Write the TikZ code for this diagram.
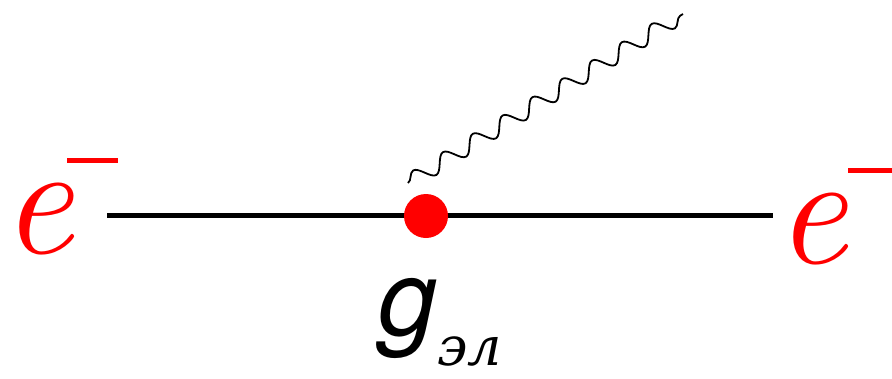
\documentclass[tikz,border=0pt]{standalone}
\usepackage{fontspec}
\newfontfamily\serifit{DejaVu Serif}[ItalicFont={* Italic}]
\newfontfamily\sansit{TeX Gyre Heros}[ItalicFont={* Italic}]
\usetikzlibrary{decorations.pathmorphing}
\definecolor{ered}{RGB}{255,0,0}
\tikzset{
  elabel/.style={text=ered, inner sep=0pt, font=\fontsize{160}{160}\selectfont\itshape},
  minusbar/.style={fill=ered, draw=none},
  fermion/.style={line width=5.5pt},
  vertexdot/.style={circle, fill=ered, minimum size=44pt, inner sep=0pt},
  photon/.style={line width=1.8pt, decorate, decoration={snake, segment length=35pt, amplitude=8pt}},
}
\begin{document}
\begin{tikzpicture}[x=1pt,y=-1pt]
\useasboundingbox (0,0) rectangle (892,378);
\node[elabel, anchor=base west] (eL) at (1,253) {e};
\node[elabel, anchor=base west] (eR) at (775,263) {e};
\fill[minusbar] (67,158) rectangle (118,163);
\fill[minusbar] (848,168) rectangle (892,173);
\coordinate (L) at (107,215.5);
\coordinate (R) at (773,215.5);
\coordinate (pA) at (408,183);
\coordinate (pB) at (683,14);
\draw[fermion] (L) -- (R);
\node[vertexdot] (v) at (426,216) {};
\draw[photon] (pA) -- (pB);
\node[inner sep=0pt, anchor=base west] (g) at (378,335) {\fontsize{106}{106}\selectfont\sansit\itshape g\raisebox{-30pt}{\fontsize{54}{54}\selectfont\serifit\itshape эл}};
\end{tikzpicture}
\end{document}
